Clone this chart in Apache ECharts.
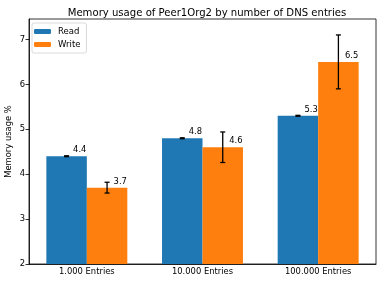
<!DOCTYPE html>
<html><head><meta charset="utf-8">
<script src="https://cdn.jsdelivr.net/npm/echarts@6/dist/echarts.min.js"></script>
<style>html,body{margin:0;padding:0;background:#fff}#c{width:382px;height:284px}</style>
</head><body><div id="c"></div>
<script>
const categories = ['1.000 Entries', '10.000 Entries', '100.000 Entries'];
const readValues = [4.4, 4.8, 5.3];
const writeValues = [3.7, 4.6, 6.5];
const readErr = [0.01, 0.01, 0.01];
const writeErr = [0.12, 0.34, 0.6];
const yTicks = [2, 3, 4, 5, 6, 7];

const FONT = 'DejaVu Sans';
const BARW = 0.35;
const chart = echarts.init(document.getElementById('c'), null, {renderer: 'canvas'});

function errSeries(vals, errs, side) {
  return {
    type: 'custom',
    z: 10,
    data: vals.map((v, i) => [i, v, errs[i]]),
    encode: {x: 0, y: 1},
    renderItem: function (params, api) {
      const i = api.value(0), v = api.value(1), e = api.value(2);
      const band = api.size([1, 0])[0];
      const c = api.coord([i, v]);
      const x = c[0] + side * band * BARW / 2;
      const top = api.coord([i, v + e])[1];
      const bot = api.coord([i, v - e])[1];
      const cap = 2.5;
      const st = {stroke: '#000', lineWidth: 1.3};
      return {type: 'group', children: [
        {type: 'line', shape: {x1: x, y1: top, x2: x, y2: bot}, style: st},
        {type: 'line', shape: {x1: x - cap, y1: top, x2: x + cap, y2: top}, style: st},
        {type: 'line', shape: {x1: x - cap, y1: bot, x2: x + cap, y2: bot}, style: st}
      ]};
    }
  };
}

const labelCfg = {
  show: true,
  position: ['66%', -10],
  align: 'left',
  color: '#000',
  fontFamily: FONT,
  fontSize: 8.4,
  formatter: p => p.value.toFixed(1)
};

chart.setOption({
  animation: false,
  title: {
    text: 'Memory usage of Peer1Org2 by number of DNS entries',
    left: 202, top: 3, textAlign: 'center',
    textStyle: {fontFamily: FONT, fontSize: 10.1, fontWeight: 'normal', color: '#000'}
  },
  legend: {
    data: ['Read', 'Write'],
    orient: 'vertical',
    left: 32, top: 23,
    itemWidth: 17, itemHeight: 5,
    itemGap: 4,
    padding: [4, 6, 4, 2],
    borderColor: '#d0d0d0', borderWidth: 0.8, borderRadius: 2,
    backgroundColor: 'rgba(255,255,255,0.8)',
    textStyle: {fontFamily: FONT, fontSize: 8.5, color: '#000', padding: [0, 0, 0, 2]}
  },
  grid: {left: 29, right: 6, top: 19, bottom: 20, show: true, borderColor: '#000', borderWidth: 0.8,
    outerBoundsMode: 'none', containLabel: false},
  xAxis: {
    type: 'category', data: categories,
    axisLine: {lineStyle: {color: '#000', width: 0.8}},
    axisTick: {alignWithLabel: true, length: 3.5, lineStyle: {color: '#000', width: 0.8}},
    axisLabel: {fontFamily: FONT, fontSize: 8.4, color: '#000', margin: 4}
  },
  yAxis: {
    type: 'value', min: 2, max: 7.455, interval: 1,
    name: 'Memory usage %', nameLocation: 'middle', nameGap: 16, nameRotate: 90,
    nameMoveOverlap: false,
    nameTextStyle: {fontFamily: FONT, fontSize: 8.4, color: '#000'},
    splitLine: {show: false},
    axisLine: {show: true, lineStyle: {color: '#000', width: 0.8}},
    axisTick: {show: true, length: 3.5, lineStyle: {color: '#000', width: 0.8}},
    axisLabel: {fontFamily: FONT, fontSize: 8.4, color: '#000', margin: 4, showMaxLabel: false,
      formatter: v => yTicks.includes(v) ? String(v) : ''}
  },
  series: [
    {name: 'Read', type: 'bar', data: readValues, barWidth: (BARW * 100) + '%', barGap: '0%',
      itemStyle: {color: '#1f77b4'}, label: labelCfg},
    {name: 'Write', type: 'bar', data: writeValues, barWidth: (BARW * 100) + '%', barGap: '0%',
      itemStyle: {color: '#ff7f0e'}, label: labelCfg},
    errSeries(readValues, readErr, -1),
    errSeries(writeValues, writeErr, 1)
  ]
});
</script></body></html>
